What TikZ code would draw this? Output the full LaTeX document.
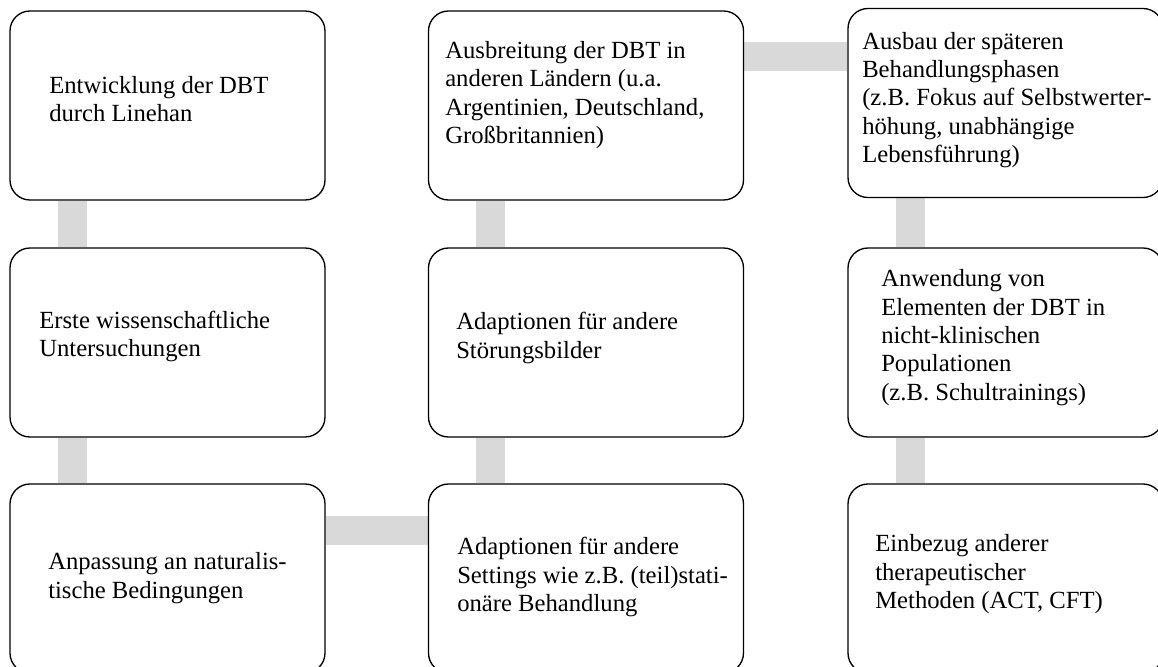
\documentclass[tikz,border=0pt]{standalone}
\usepackage{fontspec}
\setmainfont{Liberation Serif}
\usetikzlibrary{backgrounds}

\tikzset{
  stage/.style={draw, fill=white, rounded corners=15pt, line width=1pt,
    minimum width=236.25pt, minimum height=141.75pt, inner sep=0pt},
  stagetext/.style={anchor=base west, align=left, inner sep=0pt,
    font=\fontsize{18.5pt}{21.2pt}\selectfont},
  link/.style={draw=black!15, line width=21.75pt},
}

\begin{document}
\begin{tikzpicture}[x=0.75pt, y=-0.75pt]
    % Page size of the original (1 unit = 1 px)
    \useasboundingbox (0,0) rectangle (1158,667);
    \def\barx{47pt}
    \def\bary{35pt}

    % Boxes, column by column
    \node[stage] (dev) at (167.5,105.5) {};
    \node[stage] (study) at (167.5,342.5) {};
    \node[stage] (natural) at (167.5,578.5) {};
    \node[stage] (settings) at (586,578.5) {};
    \node[stage] (disorders) at (586,342.5) {};
    \node[stage] (spread) at (586,105.5) {};
    \node[stage] (phases) at (1005.5,103) {};
    \node[stage] (nonclin) at (1005.5,342.5) {};
    \node[stage] (methods) at (1005.5,578.5) {};

    % Texts (placed at the baseline of their last line)
    \node[stagetext] (devtext) at (49,121.5) {Entwicklung der DBT\\durch Linehan};
    \node[stagetext] (studytext) at (39,356.5) {Erste wissenschaftliche\\Untersuchungen};
    \node[stagetext] (naturaltext) at (48,598) {Anpassung an naturalis-\\tische Bedingungen};
    \node[stagetext] (settingstext) at (457,611.5) {Adaptionen für andere\\Settings wie z.B. (teil)stati-\\onäre Behandlung};
    \node[stagetext] (disorderstext) at (456,358) {Adaptionen für andere\\Störungsbilder};
    \node[stagetext] (spreadtext) at (445,143.5) {Ausbreitung der DBT in\\anderen Ländern (u.a.\\Argentinien, Deutschland,\\Großbritannien)};
    \node[stagetext] (phasestext) at (862,162.5) {Ausbau der späteren\\Behandlungsphasen\\(z.B. Fokus auf Selbstwerter-\\höhung, unabhängige\\Lebensführung)};
    \node[stagetext] (nonclintext) at (881,400) {Anwendung von\\Elementen der DBT in\\nicht-klinischen\\Populationen\\(z.B. Schultrainings)};
    \node[stagetext] (methodstext) at (875,608.5) {Einbezug anderer\\therapeutischer\\Methoden (ACT, CFT)};

    % Grey connectors behind the boxes
    \begin{scope}[on background layer]
        \draw[link] ([xshift=\barx]dev.south west) -- ([xshift=\barx]study.north west);
        \draw[link] ([xshift=\barx]study.south west) -- ([xshift=\barx]natural.north west);
        \draw[link] ([yshift=-\bary]natural.north east) -- ([yshift=-\bary]settings.north west);
        \draw[link] ([xshift=\barx]settings.north west) -- ([xshift=\barx]disorders.south west);
        \draw[link] ([xshift=\barx]disorders.north west) -- ([xshift=\barx]spread.south west);
        \draw[link] ([yshift=-\bary]spread.north east) -- ([yshift=-\bary]spread.north east -| phases.west);
        \draw[link] ([xshift=\barx]phases.south west) -- ([xshift=\barx]nonclin.north west);
        \draw[link] ([xshift=\barx]nonclin.south west) -- ([xshift=\barx]methods.north west);
    \end{scope}

\end{tikzpicture}
\end{document}
